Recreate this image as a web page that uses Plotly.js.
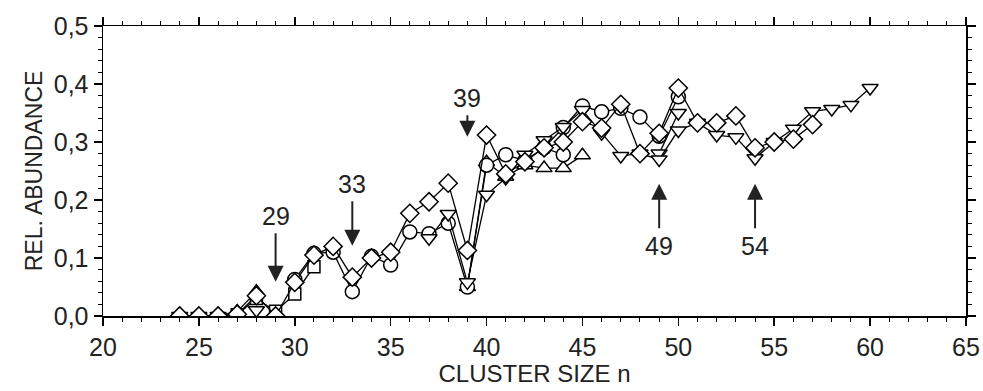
<!DOCTYPE html>
<html>
<head>
<meta charset="utf-8">
<script src="https://cdn.plot.ly/plotly-3.0.1.min.js"></script>
<style>html,body{margin:0;padding:0;background:#fff;}#chart{width:983px;height:391px;}</style>
</head>
<body>
<div id="chart"></div>
<script>
// ---- data ----
const nCirc   = [30,31,32,33,34,35,36,37,38,39,40,41,42,43,44,45,46,47,48,49,50];
const vCirc   = [0.063,0.108,0.110,0.042,0.103,0.088,0.145,0.142,0.160,0.050,0.260,0.278,0.268,0.290,0.325,0.362,0.352,0.358,0.343,0.310,0.378];

const nCirc2  = [43,44];
const vCirc2  = [0.290,0.278];

const nSq     = [27,28,29,30,31];
const vSq     = [0.002,0.030,0.008,0.038,0.085];

const nDia    = [24,25,26,27,28,29,30,31,32,33,34,35,36,37,38,39,40,41,42,43,44,45,46,47,48,49,50,51,52,53,54,55,56,57];
const vDia    = [0,0,0,0.003,0.035,0,0.058,0.105,0.120,0.067,0.100,0.110,0.177,0.197,0.229,0.113,0.312,0.245,0.266,0.290,0.300,0.335,0.324,0.365,0.280,0.315,0.393,0.333,0.333,0.345,0.290,0.300,0.305,0.330];

const nUp     = [24,25,26,27,28,29,39,40,41,42,43,44,45];
const vUp     = [0,0,0,0.008,0.042,null,0.050,0.265,0.240,0.260,0.255,0.255,0.277];

const nDown   = [24,25,26,27,28,29,37,38,39,40,41,42,43,44,45,46,47,48,49,50,51,52,53,54,55,56,57,58,59,60];
const vDown   = [0,0,0,null,0.010,null,0.134,0.176,0.058,0.209,0.238,0.278,0.303,0.326,0.355,0.315,0.276,0.280,0.270,0.320,0.333,0.312,0.308,0.272,0.300,0.323,0.353,0.357,0.364,0.393];

const nDown2  = [49,50];
const vDown2  = [0.280,0.350];

const xTicks  = [20,25,30,35,40,45,50,55,60,65];
const marks   = [
  {n:29, v:0.059, label:'29', dir:-1},
  {n:33, v:0.121, label:'33', dir:-1},
  {n:39, v:0.309, label:'39', dir:-1},
  {n:49, v:0.228, label:'49', dir:1},
  {n:54, v:0.228, label:'54', dir:1}
];
const markOffset = {'29':66,'33':62,'39':39,'49':62,'54':62};

// ---- styling ----
const lineStyle = {color:'#000', width:1.3};
function trace(x, y, symbol, size){
  return {
    x:x, y:y, type:'scatter', mode:'lines+markers', connectgaps:false,
    line:lineStyle,
    marker:{symbol:symbol, size:size, color:'#fff', line:{color:'#000', width:1.5}},
    hoverinfo:'x+y', showlegend:false
  };
}
const data = [
  trace(nSq, vSq, 'square', 12),
  trace(nUp, vUp, 'triangle-up', 14),
  trace(nCirc2, vCirc2, 'circle', 14),
  trace(nCirc, vCirc, 'circle', 14),
  trace(nDown2, vDown2, 'triangle-down', 14),
  trace(nDown, vDown, 'triangle-down', 14),
  trace(nDia, vDia, 'diamond', 14)
];

const fam = 'Liberation Sans, Arial, sans-serif';
const hFont = {family:fam, size:25, color:'#222'};
const tFont = {family:fam, size:24, color:'#222'};
const vFont = {family:fam, size:23, color:'#222'};
const annotations = marks.map(m => ({
  x:m.n, y:m.v, xref:'x', yref:'y',
  text:m.label, showarrow:true,
  ax:0, ay:m.dir*markOffset[m.label],
  arrowhead:2, arrowsize:1.6, arrowwidth:2, arrowcolor:'#222',
  standoff:0, startstandoff:2,
  font:{family:fam, size:25, color:'#222'}
}));

const layout = {
  width:983, height:391,
  margin:{l:103, r:17, t:26, b:75, pad:0},
  paper_bgcolor:'#fff', plot_bgcolor:'#fff',
  separators:', ',
  font:hFont,
  showlegend:false,
  xaxis:{
    range:[20,65], tickvals:xTicks, ticktext:xTicks.map(String),
    showgrid:false, zeroline:false,
    showline:true, linecolor:'#000', linewidth:1.5, mirror:'ticks',
    ticks:'outside', ticklen:8, tickwidth:1.5, tickcolor:'#000',
    minor:{dtick:1, ticks:'outside', ticklen:4, tickwidth:1, tickcolor:'#000', showgrid:false},
    tickfont:hFont, ticklabelstandoff:0,
    title:{text:'CLUSTER SIZE n', font:tFont, standoff:0}
  },
  yaxis:{
    range:[0,0.5], dtick:0.1, tick0:0, tickformat:'.1f',
    showgrid:false, zeroline:false,
    showline:true, linecolor:'#000', linewidth:1.5, mirror:'ticks',
    ticks:'outside', ticklen:8, tickwidth:1.5, tickcolor:'#000',
    minor:{dtick:0.02, ticks:'outside', ticklen:4, tickwidth:1, tickcolor:'#000', showgrid:false},
    tickfont:hFont,
    title:{text:'REL. ABUNDANCE', font:vFont, standoff:4}
  },
  annotations:annotations
};

Plotly.newPlot('chart', data, layout, {displayModeBar:false, staticPlot:true});
</script>
</body>
</html>
